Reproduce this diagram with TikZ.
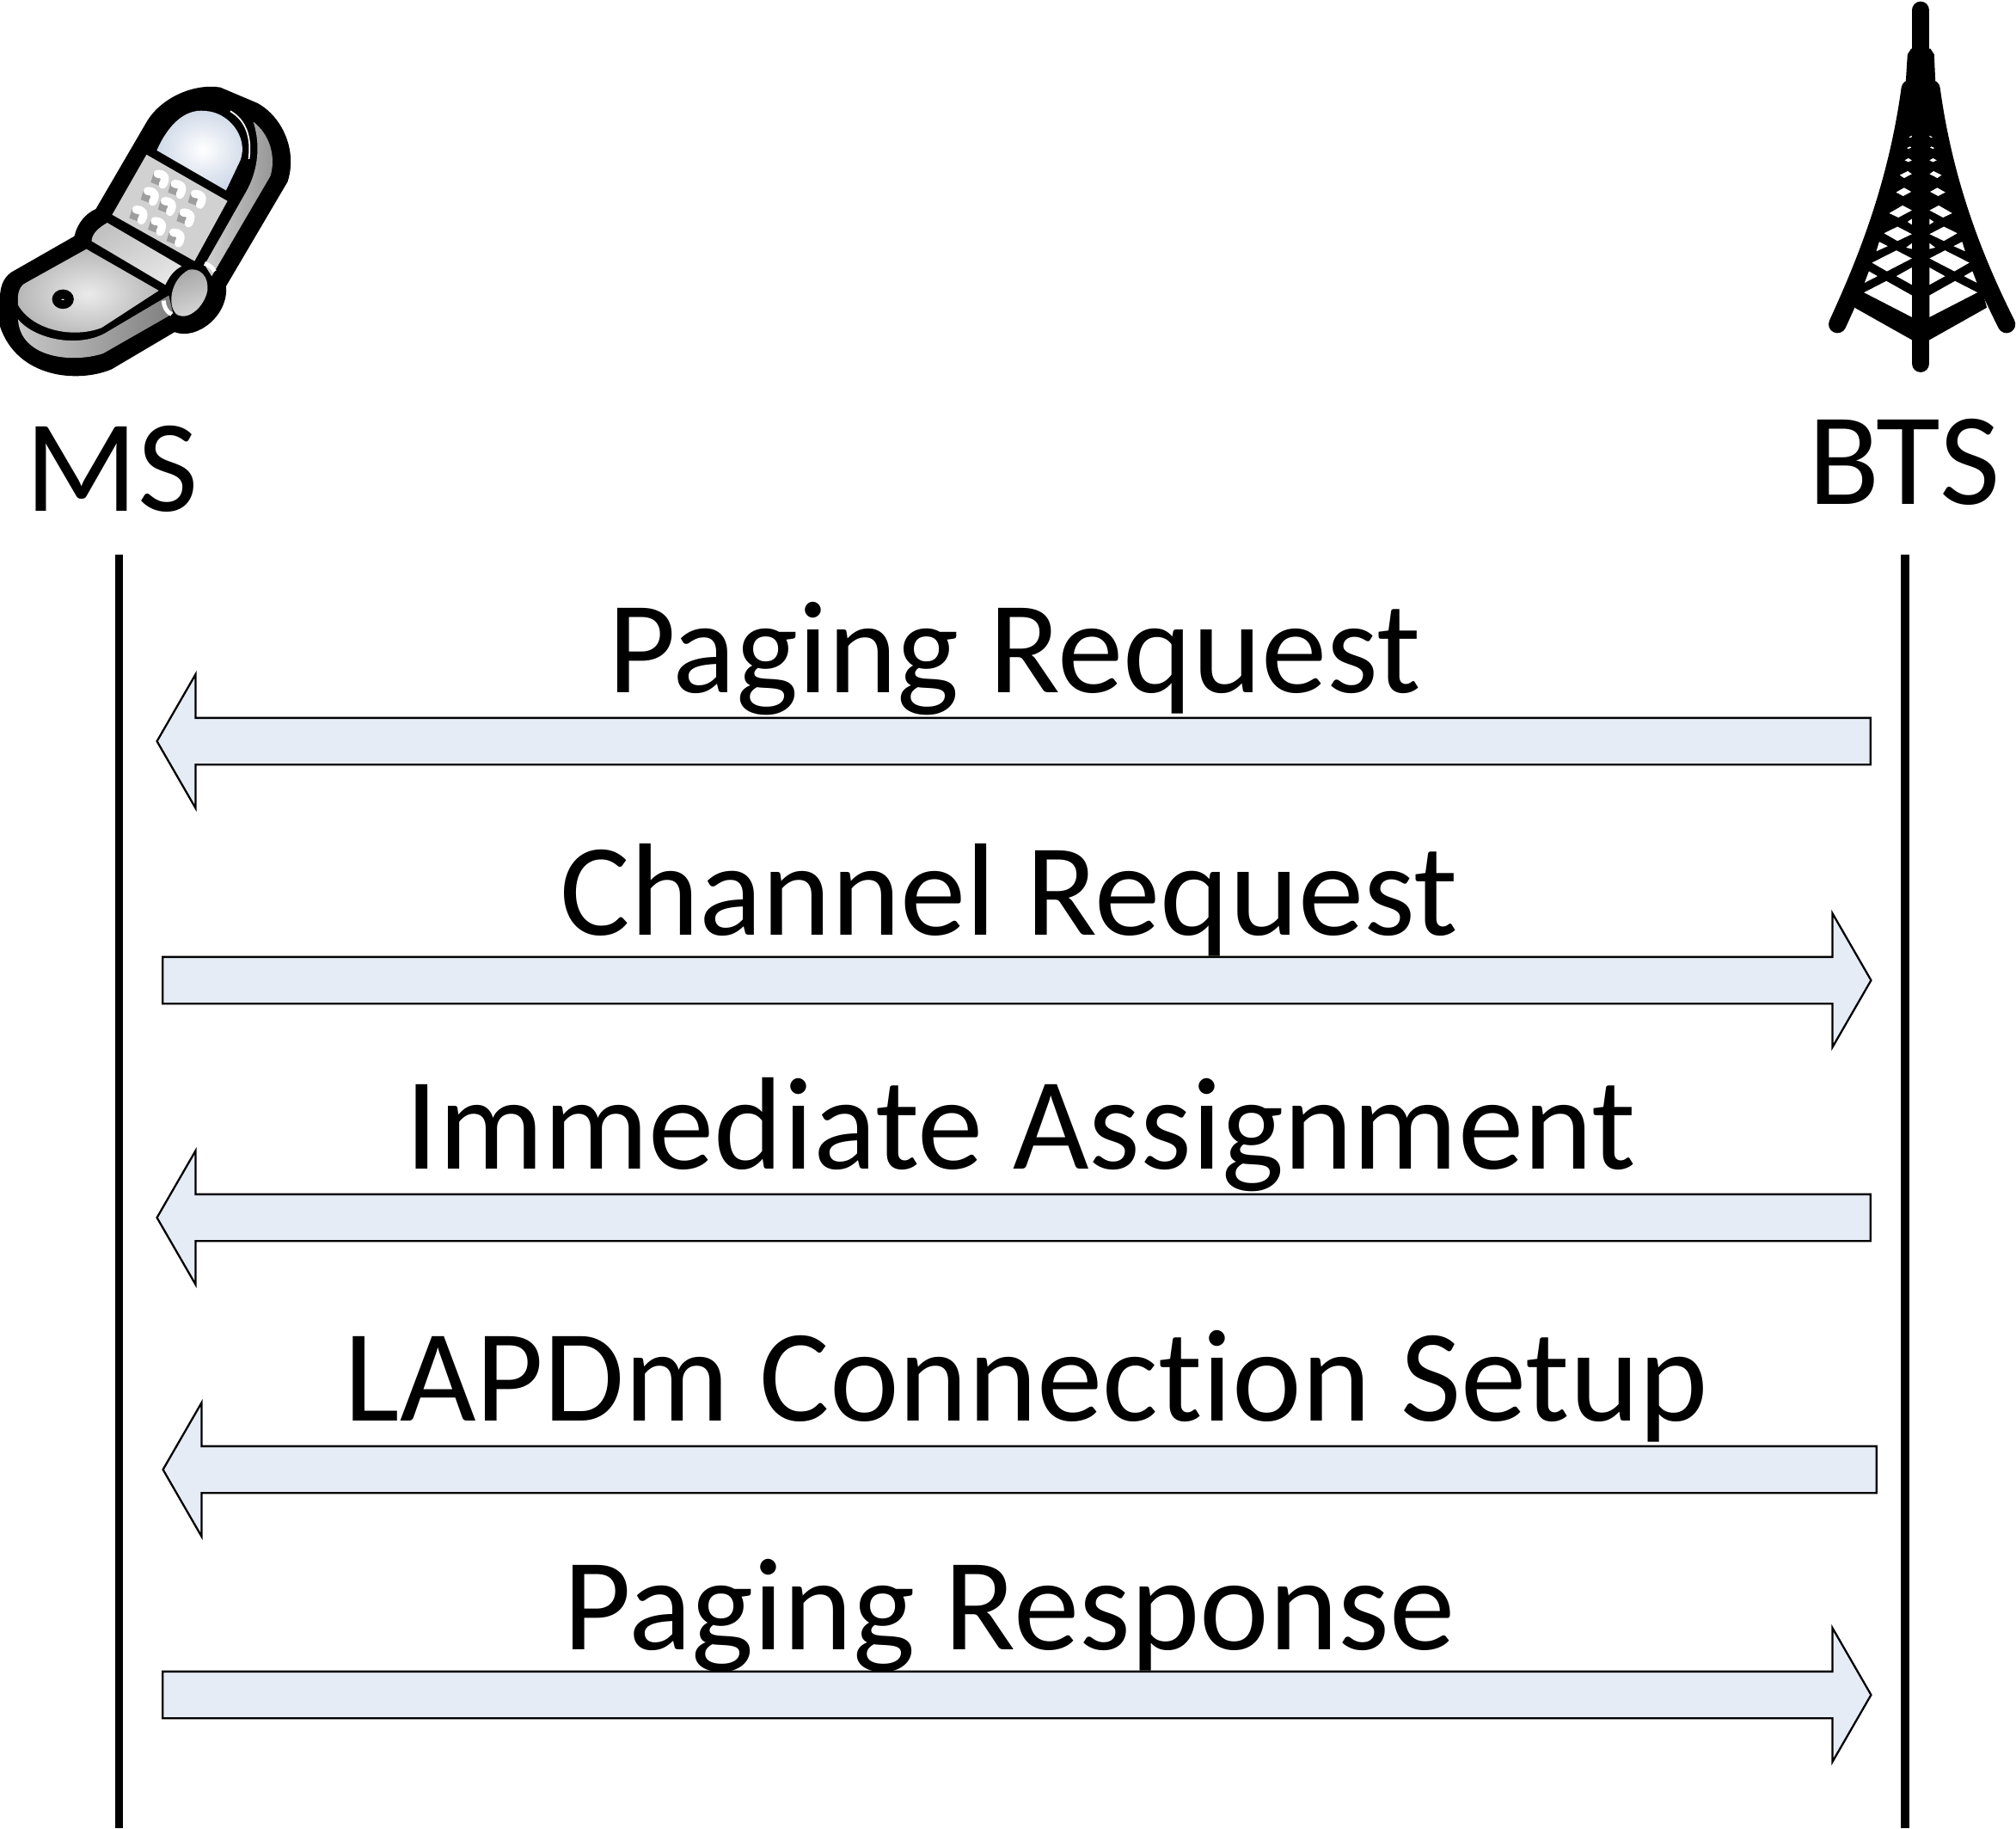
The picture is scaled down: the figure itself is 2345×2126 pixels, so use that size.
\documentclass[tikz,border=0pt]{standalone}
\usepackage{fontspec}
\setmainfont{Carlito}[Ligatures=NoCommon]
\usetikzlibrary{positioning, shapes.arrows}

\definecolor{msgfill}{HTML}{E6ECF6}
\definecolor{screenblue}{HTML}{CFD9E8}

\begin{document}
\begin{tikzpicture}[
  x=0.01cm, y=-0.01cm,
  msgleft/.style={draw, fill=msgfill, line width=0.65pt, single arrow, shape border rotate=180,
              single arrow tip angle=120, single arrow head extend=0.505cm, single arrow head indent=0pt,
              minimum width=1.53cm, inner xsep=0pt, inner ysep=0.26cm},
  msgright/.style={msgleft, shape border rotate=0},
  msglabel/.style={font=\fontsize{43.5}{44}\selectfont, inner sep=0pt, outer sep=0pt},
  actor/.style={font=\fontsize{43.5}{44}\selectfont, anchor=base, inner sep=0pt},
  lifeline/.style={line width=2.6pt},
  keyshade/.style={fill=black!38},
  hook/.style={white, line width=2.7pt, line cap=round, line join=round}
]
  \useasboundingbox (0,0) rectangle (2345,2126);

  % phone
  \begin{scope}[shift={(0,80)}, x=0.00333cm, y=-0.00333cm]
    \fill[black] (510,190) .. controls (560,100) and (680,50) .. (770,65) -- (900,120)
      .. controls (990,170) and (1040,290) .. (1005,395) -- (790,760)
      .. controls (800,860) and (690,950) .. (610,920) -- (390,1050)
      .. controls (270,1100) and (60,1080) .. (0,900) -- (0,800)
      .. controls (0,750) and (20,720) .. (50,705) -- (260,585)
      .. controls (270,540) and (300,505) .. (335,490) -- cycle;
    % lid side
    \shade[left color=black!18, right color=black!42]
      (885,185) .. controls (945,230) and (965,310) .. (945,375) -- (740,725)
      -- (715,685) -- (860,430) .. controls (905,350) and (910,260) .. (885,185) -- cycle;
    \draw[white, line width=0.5pt] (805,148) .. controls (860,180) and (880,240) .. (870,315);
    % screen
    \shade[inner color=white, outer color=screenblue]
      (548,285) .. controls (590,190) and (650,140) .. (715,147)
      .. controls (800,150) and (870,240) .. (840,320) -- (790,425) -- cycle;
    % keypad
    \fill[black!18] (512,300) -- (795,462) -- (680,672) -- (392,510) -- cycle;
    \foreach \kx/\ky in {565/385, 625/420, 695/455, 530/445, 590/480, 655/520, 490/510, 555/550, 620/590} {
      \fill[keyshade] (\kx-28,\ky-22) -- (\kx+15,\ky-12) -- (\kx+5,\ky+28) -- (\kx-38,\ky+12) -- cycle;
      \draw[hook] (\kx-14,\ky-18) .. controls (\kx+6,\ky-18) and (\kx+20,\ky-8) .. (\kx+4,\ky+20);
    }
    % hinge
    \shade[left color=black!24, right color=black!10, shading angle=30]
      (375,538) -- (635,690) .. controls (605,705) and (590,730) .. (578,755) -- (320,602)
      .. controls (322,575) and (345,555) .. (375,538) -- cycle;
    % base top
    \shade[inner color=black!8, outer color=black!28]
      (302,630) -- (555,775) -- (355,905) .. controls (250,945) and (110,910) .. (63,825)
      -- (63,795) .. controls (65,770) and (75,755) .. (90,748) -- cycle;
    \fill[black] (220,805) circle [x radius=38, y radius=34];
    \fill[white] (220,806) circle [x radius=6, y radius=2];
    % base side
    \shade[left color=black!22, right color=black!50]
      (63,875) .. controls (120,945) and (270,975) .. (365,925) -- (590,792) -- (605,855)
      -- (360,995) .. controls (250,1030) and (70,1010) .. (63,875) -- cycle;
    % knob
    \draw[white, line width=1.4pt] (572,810) .. controls (572,830) and (582,850) .. (600,858);
    \draw[white, line width=1.4pt] (715,680) .. controls (730,685) and (745,695) .. (750,708);
    \shade[left color=black!35, right color=black!15, shading angle=20]
      (660,702) .. controls (700,695) and (730,725) .. (725,775)
      .. controls (715,830) and (660,880) .. (620,860) .. controls (585,835) and (590,740) .. (660,702) -- cycle;
  \end{scope}

  % tower
  \begin{scope}[shift={(2100,0)}, x=0.00333cm, y=-0.00333cm]
    \draw[black, line width=5.85pt, line cap=round] (403,36) -- (403,1270);
    \fill[black] (370,170) -- (437,170) -- (450,190) -- (455,300) -- (350,300) -- (357,190) -- cycle;
    \fill[black] (366,290) -- (440,290) .. controls (486,650) and (596,920) .. (634,1075)
      -- (403,1205) -- (172,1075) .. controls (210,920) and (320,650) .. (366,290) -- cycle;
    \draw[black, line width=5.85pt, line cap=round] (366,310) .. controls (320,650) and (210,920) .. (112,1133);
    \draw[black, line width=5.85pt, line cap=round] (440,310) .. controls (486,650) and (596,920) .. (703,1133);
    \foreach \mir in {1,-1} {
      \begin{scope}[shift={(403,0)}, xscale=\mir, shift={(-403,0)}]
        \fill[white] (205,1022) -- (283,982) -- (372,1032) -- (372,1108) -- cycle;
        \fill[white] (318,965) -- (372,935) -- (372,995) -- cycle;
        \fill[white] (207,988) -- (222,948) -- (252,965) -- cycle;
        \fill[white] (233,918) -- (318,875) -- (372,903) -- (285,948) -- cycle;
        \fill[white] (248,878) -- (258,845) -- (288,860) -- cycle;
        \fill[white] (352,865) -- (372,850) -- (372,870) -- cycle;
        \fill[white] (275,815) -- (322,792) -- (372,818) -- (322,842) -- cycle;
        \fill[white] (357,775) -- (372,765) -- (372,785) -- cycle;
        \fill[white] (293,745) -- (340,718) -- (372,735) -- (325,760) -- cycle;
        \fill[white] (317,672) -- (345,656) -- (370,670) -- (342,685) -- cycle;
        \fill[white] (330,612) -- (358,598) -- (372,608) -- (345,622) -- cycle;
        \fill[white] (347,560) -- (360,553) -- (372,560) -- (360,566) -- cycle;
        \fill[white] (355,517) -- (366,512) -- (370,516) -- (360,520) -- cycle;
        \fill[white] (362,479) -- (372,474) -- (372,478) -- (366,481) -- cycle;
      \end{scope}
    }
  \end{scope}

  \node[actor] (ms)  at (130,594) {MS};
  \node[actor] (bts) at (2215,586) {BTS};
  \coordinate (mstop)  at (138.5,645);
  \coordinate (msend)  at (138.5,2126);
  \coordinate (btstop) at (2216,645);
  \coordinate (btsend) at (2216,2126);
  \draw[lifeline] (mstop) -- (msend);
  \draw[lifeline] (btstop) -- (btsend);

  \node[msgleft,  minimum height=19.92cm] (pgreq) at (1187,862)  {};
  \node[msgright, minimum height=19.86cm] (chreq) at (1175,1140) {};
  \node[msgleft,  minimum height=19.92cm] (imm)   at (1187,1416) {};
  \node[msgleft,  minimum height=19.92cm] (lapdm) at (1194,1709) {};
  \node[msgright, minimum height=19.86cm] (pgres) at (1175,1971) {};

  \node[msglabel, above=0.305cm of pgreq.center, xshift=-0.07cm] (pgreqt) {Paging Request};
  \node[msglabel, above=0.275cm of chreq.center, xshift=-0.01cm] (chreqt) {Channel Request};
  \node[msglabel, above=0.305cm of imm.center] (immt) {Immediate Assignment};
  \node[msglabel, above=0.32cm of lapdm.center] (lapdmt) {LAPDm Connection Setup};
  \node[msglabel, above=0.26cm of pgres.center, xshift=-0.01cm] (pgrest) {Paging Response};
\end{tikzpicture}
\end{document}
